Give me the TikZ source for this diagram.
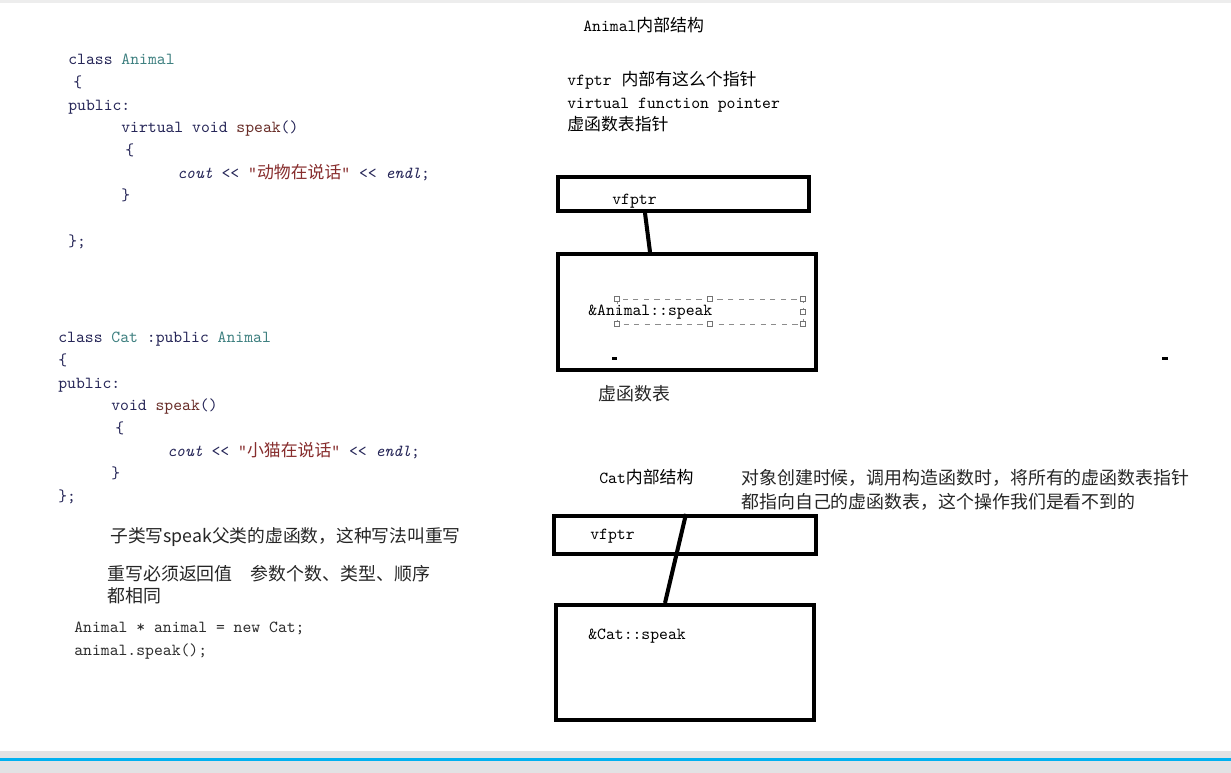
\documentclass[tikz,border=0pt]{standalone}
\usepackage{fontspec}
\newfontfamily\cjk{Noto Sans CJK SC}
\usetikzlibrary{positioning,calc}
\definecolor{CodeTeal}{RGB}{62,128,128}
\definecolor{CodeNavy}{RGB}{38,38,88}
\definecolor{CodeBrown}{RGB}{105,45,40}
\definecolor{CodeString}{RGB}{135,45,45}
\definecolor{CodeDark}{RGB}{45,45,45}
\definecolor{BarGray}{RGB}{226,226,228}
\definecolor{BarBlue}{RGB}{0,176,240}
\newlength\pxu
\setlength\pxu{0.02cm}
\newcommand\tab[1]{\hspace*{#1\pxu}}
\newcommand\kw[1]{\textcolor{CodeNavy}{#1}}
\newcommand\cls[1]{\textcolor{CodeTeal}{#1}}
\newcommand\fn[1]{\textcolor{CodeBrown}{#1}}
\newcommand\str[1]{\textcolor{CodeString}{#1}}
\tikzset{
  vt/code/.style={
    anchor=north west,
    inner sep=0pt,
    align=left,
    text=CodeNavy,
    font=\ttfamily\fontsize{9.6}{12.9}\selectfont
  },
  vt/label/.style={
    anchor=west,
    inner sep=0pt,
    text=black,
    font=\ttfamily\fontsize{9.6}{12}\selectfont
  },
  vt/note/.style={
    anchor=north west,
    inner sep=0pt,
    align=left,
    text=black!85,
    font=\cjk\fontsize{10.2}{12.5}\selectfont
  },
  vt/box/.style={
    draw=black,
    line width=2.3pt,
    fill=white,
    inner sep=0pt
  },
  vt/link/.style={line width=2.3pt, draw=black},
  vt/select/.style={draw=black!45, dashed, line width=0.5pt},
  vt/handle/.style={draw=black!55, fill=white, line width=0.4pt}
}
\begin{document}
\begin{tikzpicture}[x=0.02cm,y=-0.02cm]
  \useasboundingbox (0,0) rectangle (1231,773);
  \fill[white] (0,0) rectangle (1231,773);
  \fill[black!7] (0,0) rectangle (1231,3);
  % source code
  \node[vt/code] (animalcode) at (68,54) {%
    class \cls{Animal}\\
    \tab{5}\{\\
    public:\\
    \tab{53}\kw{virtual void} \fn{speak}()\\
    \tab{57}\{\\
    \tab{109}\textit{cout} << \str{"{\cjk 动物在说话}"} << \textit{endl};\\
    \tab{53}\}\\
    \mbox{}\\
    \};};
  \node[vt/code] (catcode) at (58,332) {%
    class \cls{Cat} :public \cls{Animal}\\
    \{\\
    public:\\
    \tab{53}\kw{void} \fn{speak}()\\
    \tab{57}\{\\
    \tab{109}\textit{cout} << \str{"{\cjk 小猫在说话}"} << \textit{endl};\\
    \tab{53}\}\\
    \};};
  \node[vt/note,anchor=west,font=\cjk\fontsize{10.1}{12}\selectfont] (override) at (110,537) {子类写speak父类的虚函数，这种写法叫重写};
  \node[vt/note] (rules) at (107,565) {重写必须返回值\quad 参数个数、类型、顺序\\都相同};
  \node[vt/code,text=CodeDark] (usage) at (74,622) {Animal * animal = new Cat;\\animal.speak();};
  % Animal layout
  \node[vt/label] (animaltitle) at (583,25) {Animal{\cjk 内部结构}};
  \node[vt/code,text=black] (vfptrnote) at (567,71) {vfptr\tab{10}{\cjk 内部有这么个指针}\\virtual function pointer\\{\cjk 虚函数表指针}};
  \node[vt/box,minimum width=251\pxu,minimum height=34\pxu] (vptrA) at (683.5,194) {};
  \node[vt/box,minimum width=258\pxu,minimum height=116\pxu] (tableA) at (687,312) {};
  \node[vt/label] (vptrAtext) at (612,201) {vfptr};
  \draw[vt/select] (617,299) rectangle (803,324);
  \foreach \hx/\hy in {617/299,710/299,803/299,617/324,710/324,803/324,803/312}
    \draw[vt/handle] (\hx-2.5,\hy-2.5) rectangle (\hx+2.5,\hy+2.5);
  \node[vt/label] (speakA) at (588,312) {\&Animal::speak};
  \fill[black] (612,357) rectangle (617,360);
  \fill[black] (1162,357) rectangle (1168,360);
  \node[vt/note,anchor=west] (tableAtext) at (598,394) {虚函数表};
  \draw[vt/link] ($(vptrA.south)+(-38.5,0)$) -- ($(tableA.north)+(-37,0)$);
  % Cat layout
  \node[vt/label] (cattitle) at (599,477) {Cat{\cjk 内部结构}};
  \node[vt/note,font=\cjk\fontsize{10.2}{13.6}\selectfont] (ctornote) at (741,469) {对象创建时候，调用构造函数时，将所有的虚函数表指针\\都指向自己的虚函数表，这个操作我们是看不到的};
  \node[vt/box,minimum width=262\pxu,minimum height=38\pxu] (vptrB) at (685,535) {};
  \node[vt/box,minimum width=258\pxu,minimum height=115\pxu] (tableB) at (685,662.5) {};
  \node[vt/label] (vptrBtext) at (590,536) {vfptr};
  \node[vt/label] (speakB) at (588,636) {\&Cat::speak};
  \draw[vt/link] ($(vptrB.north)+(1,0)$) -- ($(tableB.north)+(-20,0)$);
  % window bar
  \fill[BarGray] (0,751) rectangle (1231,773);
  \draw[BarBlue,line width=3\pxu] (0,759) -- (1231,759);
\end{tikzpicture}
\end{document}
